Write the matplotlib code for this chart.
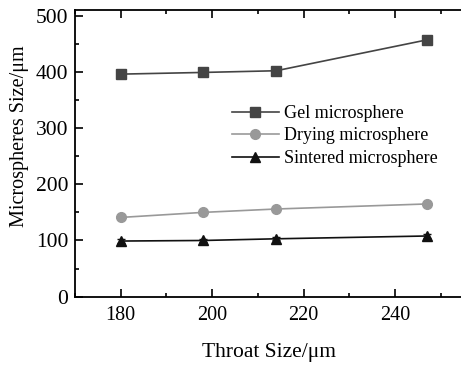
import matplotlib.pyplot as plt
from matplotlib.ticker import MultipleLocator

plt.rcParams['font.family'] = ['Liberation Serif', 'DejaVu Serif']

throat = [180, 198, 214, 247]
gel = [396, 399, 402, 457]
gel_err = [4, 5, 6, 7]
drying = [141, 150, 156, 165]
drying_err = [3, 4, 3, 3]
sintered = [99, 100, 103, 108]
sintered_err = [4, 3, 3, 4]

fig = plt.figure(figsize=(4.61, 3.67), dpi=100)
ax = fig.add_axes([0.1627, 0.1916, 0.843, 0.781])

series = [
    (gel, gel_err, '#444444', 's', 'Gel microsphere'),
    (drying, drying_err, '#999999', 'o', 'Drying microsphere'),
    (sintered, sintered_err, '#111111', '^', 'Sintered microsphere'),
]
handles = []
for vals, err, c, m, lab in series:
    ax.errorbar(throat, vals, yerr=err, fmt='none', ecolor=c, elinewidth=1.2, capsize=3)
    h, = ax.plot(throat, vals, color=c, marker=m, ms=7, lw=1.2, label=lab)
    handles.append(h)

ax.set_xlim(170, 255)
ax.set_ylim(0, 510)
ax.xaxis.set_major_locator(MultipleLocator(20))
ax.xaxis.set_minor_locator(MultipleLocator(10))
ax.yaxis.set_major_locator(MultipleLocator(100))
ax.yaxis.set_minor_locator(MultipleLocator(50))
ax.tick_params(which='both', direction='in', top=True, right=False, width=1.2, pad=7)
ax.tick_params(axis='x', labelsize=14.5)
ax.tick_params(axis='y', labelsize=15.5, pad=5)
ax.tick_params(which='major', length=6)
ax.tick_params(which='minor', length=3)
for s in ax.spines.values():
    s.set_linewidth(1.3)

ax.set_xlabel('Throat Size/μm', fontsize=15.5, labelpad=13)
ax.set_ylabel('Microspheres Size/μm', fontsize=14.5)
ax.yaxis.set_label_coords(-0.118, 0.56)

ax.legend(handles=handles, loc='upper left', bbox_to_anchor=(0.38, 0.7), frameon=False,
          fontsize=13, handlelength=2.6, handletextpad=0.3, labelspacing=0.3, borderpad=0)

fig.savefig('out.png', dpi=100)
